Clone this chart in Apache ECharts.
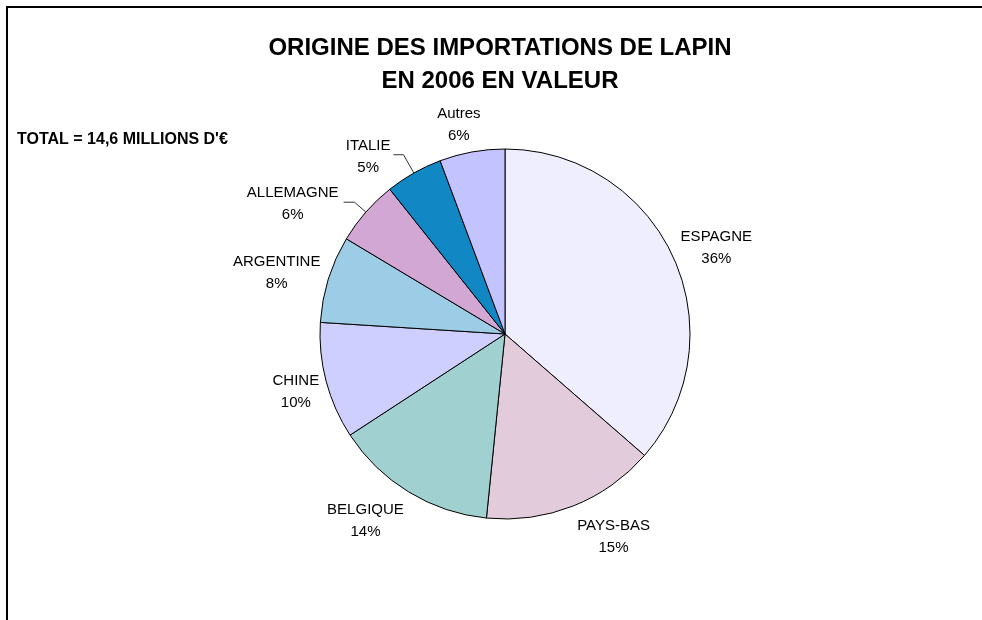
<!DOCTYPE html>
<html><head><meta charset="utf-8">
<script src="https://cdn.jsdelivr.net/npm/echarts@6/dist/echarts.min.js"></script>
<style>html,body{margin:0;padding:0;background:#fff}#chart{width:982px;height:620px}</style>
</head><body><div id="chart"></div>
<script>
const categories = ['ESPAGNE', 'PAYS-BAS', 'BELGIQUE', 'CHINE', 'ARGENTINE', 'ALLEMAGNE', 'ITALIE', 'Autres'];
const values = [36.4, 15.2, 14.2, 10.2, 7.6, 5.7, 5.0, 5.7];
const titleLines = ['ORIGINE DES IMPORTATIONS DE LAPIN', 'EN 2006 EN VALEUR'];
const totalNote = "TOTAL = 14,6 MILLIONS D'€";
const sliceColors = ['#EEEEFE', '#E2CCDC', '#A1D0D0', '#CFCFFF', '#9DCDE6', '#D3A7D3', '#1188C4', '#C3C3FF'];

// layout / style settings
const CX = 505, CY = 334, R = 185;
const FONT = '"Liberation Sans", Arial, Helvetica, sans-serif';
const leader = { ALLEMAGNE: { len: 15, len2: 11, dist: 5 }, ITALIE: { len: 21, len2: 10, dist: 3 } };

const total = values.reduce((a, b) => a + b, 0);
function midDir(i) {
  let before = 0;
  for (let k = 0; k < i; k++) before += values[k];
  const a = (before + values[i] / 2) / total * 2 * Math.PI;
  return [Math.sin(a), -Math.cos(a)];
}

const chart = echarts.init(document.getElementById('chart'), null, { renderer: 'canvas' });
chart.setOption({
  animation: false,
  backgroundColor: '#fff',
  graphic: [{
    type: 'rect', silent: true, z: -10,
    shape: { x: 7, y: 7, width: 1400, height: 1400 },
    style: { fill: 'none', stroke: '#000', lineWidth: 2 }
  }],
  title: [{
    text: titleLines.join('\n'),
    left: 500, top: 32, textAlign: 'center', padding: 0,
    textStyle: { fontFamily: FONT, fontSize: 24, fontWeight: 'bold', color: '#000', lineHeight: 33 }
  }, {
    text: totalNote,
    left: 17, top: 131, padding: 0,
    textStyle: { fontFamily: FONT, fontSize: 16, fontWeight: 'bold', color: '#000', lineHeight: 17 }
  }],
  series: [{
    type: 'pie',
    center: [CX, CY],
    radius: R,
    startAngle: 90,
    clockwise: true,
    avoidLabelOverlap: false,
    percentPrecision: 0,
    silent: true,
    itemStyle: { borderColor: '#000', borderWidth: 1 },
    label: {
      show: true, position: 'outside',
      formatter: '{b}\n{d}%',
      fontFamily: FONT, fontSize: 15, lineHeight: 22, color: '#000'
    },
    labelLine: { show: true, length: 15, length2: 9, smooth: false, lineStyle: { color: '#333', width: 1 } },
    labelLayout: function (p) {
      const i = p.dataIndex;
      const d = midDir(i), ux = d[0], uy = d[1];
      const w = p.labelRect.width / 2, h = p.labelRect.height / 2;
      const L = leader[categories[i]];
      if (L) {
        const x1 = CX + R * ux, y1 = CY + R * uy;
        const x2 = CX + (R + L.len) * ux, y2 = CY + (R + L.len) * uy;
        const x3 = x2 + (ux < 0 ? -1 : 1) * L.len2, y3 = y2;
        const tx = x3 + (ux < 0 ? -(L.dist + w) : (L.dist + w));
        return { x: tx, y: y3 + 2, align: 'center', verticalAlign: 'middle',
                 labelLinePoints: [[x1, y1], [x2, y2], [x3, y3]] };
      }
      const gap = 6;
      const px = CX + (R + gap) * ux, py = CY + (R + gap) * uy;
      const fx = Math.max(-1, Math.min(1, 3 * ux)) * 1.05;
      return { x: px + w * fx, y: py + h * 1.1 * uy + 3, align: 'center', verticalAlign: 'middle' };
    },
    data: categories.map((name, i) => ({
      name: name,
      value: values[i],
      itemStyle: { color: sliceColors[i] },
      labelLine: { show: !!leader[name] }
    }))
  }]
});
</script>
</body></html>
